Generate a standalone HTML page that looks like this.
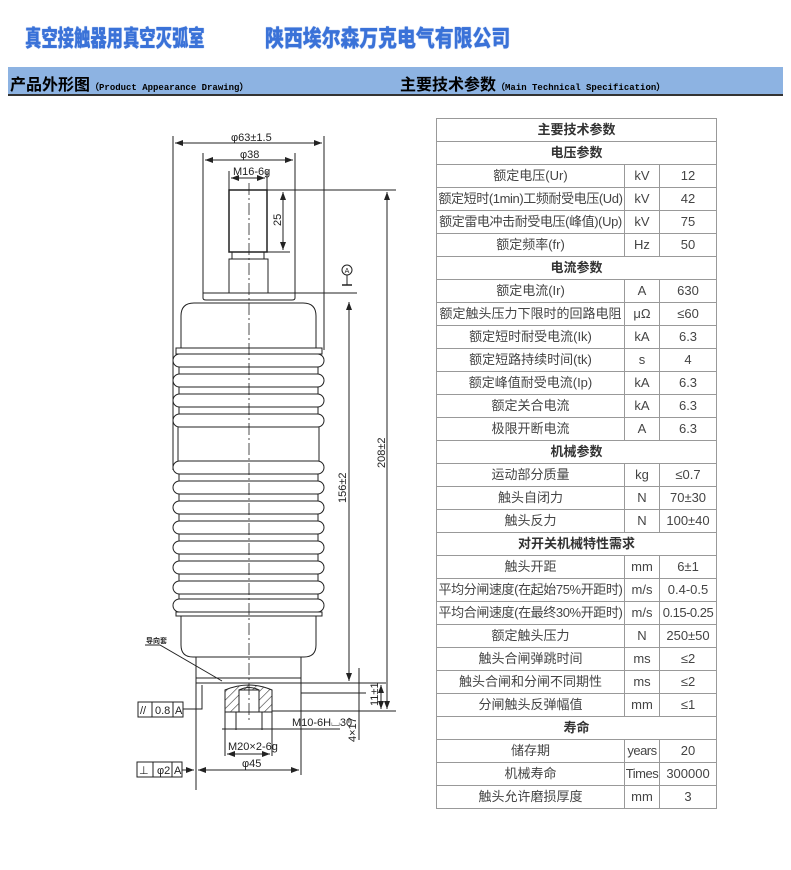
<!DOCTYPE html>
<html><head><meta charset="utf-8"><style>
body{margin:0;width:791px;height:870px;background:#fff;position:relative;overflow:hidden;font-family:"Liberation Sans","Noto Sans CJK SC",sans-serif}
.t{position:absolute;font-weight:900;color:#3a72d8;font-size:23px;top:24px;white-space:nowrap;text-shadow:0 0 1px #3a72d8;transform-origin:0 0;line-height:28px}
.bar{position:absolute;left:8px;top:67px;width:775px;height:27px;background:#8db3e2;border-bottom:2px solid #333}
.bar span{position:absolute;top:4px;font-size:16px;font-weight:bold;color:#000;white-space:nowrap}
.bar small{font-family:"Liberation Mono",monospace;font-size:9px;font-weight:bold}
table{position:absolute;left:436px;top:118px;border-collapse:collapse;width:280px;table-layout:fixed;border:1.5px solid #444}
td{border:1px solid #999;height:22px;padding:0;text-align:center;font-size:13px;color:#444;white-space:nowrap;line-height:22px;overflow:hidden}
td.h{font-weight:bold;color:#333}
</style></head><body>
<div class="t" style="left:25px;transform:scaleX(0.71)">真空接触器用真空灭弧室</div>
<div class="t" style="left:265px;transform:scaleX(0.82)">陕西埃尔森万克电气有限公司</div>
<div class="bar"><span style="left:2px">产品外形图<small>（Product Appearance Drawing）</small></span><span style="left:392px">主要技术参数<small>（Main Technical Specification）</small></span></div>
<svg style="position:absolute;left:0;top:0" width="791" height="870" viewBox="0 0 791 870">
<defs><marker id="a" markerWidth="8" markerHeight="6" refX="8" refY="3" orient="auto-start-reverse"><path d="M0,0L8,3L0,6z" fill="#222"/></marker>
<pattern id="hp" width="6" height="6" patternUnits="userSpaceOnUse" patternTransform="rotate(45)"><line x1="0" y1="0" x2="0" y2="6" stroke="#333" stroke-width="1.2"/></pattern></defs>
<g fill="none" stroke="#222" stroke-width="1">
<line x1="173" y1="136" x2="173" y2="470"/><line x1="324" y1="136" x2="324" y2="350"/>
<line x1="203" y1="153" x2="203" y2="296"/><line x1="295" y1="153" x2="295" y2="296"/>
<line x1="229" y1="171" x2="229" y2="190"/><line x1="267" y1="171" x2="267" y2="190"/>
<line x1="175" y1="143" x2="322" y2="143" marker-start="url(#a)" marker-end="url(#a)"/>
<line x1="205" y1="160" x2="293" y2="160" marker-start="url(#a)" marker-end="url(#a)"/>
<line x1="231" y1="178" x2="265" y2="178" marker-start="url(#a)" marker-end="url(#a)"/>
<rect x="229" y="190" width="38" height="62" stroke-width="1.5"/>
<rect x="232" y="252" width="32" height="7"/>
<rect x="229" y="259" width="39" height="34"/>
<path d="M203,293H295V298Q295,300 292,300H206Q203,300 203,298Z"/>
<line x1="267" y1="190" x2="396" y2="190"/><line x1="267" y1="252" x2="290" y2="252"/>
<line x1="283" y1="192" x2="283" y2="250" marker-start="url(#a)" marker-end="url(#a)"/>
<line x1="295" y1="293" x2="357" y2="293"/>
<circle cx="347" cy="270" r="5"/><line x1="347" y1="275" x2="347" y2="285"/><line x1="342" y1="285" x2="352" y2="285" stroke-width="1.5"/>
<path d="M181,348V316Q181,303 194,303H303Q316,303 316,316V348"/>
<rect x="176" y="348" width="146" height="6"/>
<g>
<rect x="173" y="354" width="151" height="13" rx="6.5"/>
<rect x="173" y="374" width="151" height="13" rx="6.5"/>
<rect x="173" y="394" width="151" height="13" rx="6.5"/>
<rect x="173" y="414" width="151" height="13" rx="6.5"/>
<rect x="173" y="461" width="151" height="13" rx="6.5"/>
<rect x="173" y="481" width="151" height="13" rx="6.5"/>
<rect x="173" y="501" width="151" height="13" rx="6.5"/>
<rect x="173" y="521" width="151" height="13" rx="6.5"/>
<rect x="173" y="541" width="151" height="13" rx="6.5"/>
<rect x="173" y="561" width="151" height="13" rx="6.5"/>
<rect x="173" y="581" width="151" height="13" rx="6.5"/>
<rect x="173" y="599" width="151" height="13" rx="6.5"/>
</g>
<path d="M179,367V374M318,367V374M179,387V394M318,387V394M179,407V414M318,407V414M178,427V461M319,427V461M179,474V481M318,474V481M179,494V501M318,494V501M179,514V521M318,514V521M179,534V541M318,534V541M179,554V561M318,554V561M179,574V581M318,574V581M179,594V599M318,594V599"/>
<rect x="176" y="612" width="146" height="4"/>
<path d="M181,616V645Q181,657 193,657H304Q316,657 316,645V616"/>
<line x1="196" y1="657" x2="196" y2="678"/><line x1="301" y1="657" x2="301" y2="678"/>
<rect x="196" y="678" width="105" height="5"/>
<line x1="301" y1="683" x2="386" y2="683"/>
<line x1="301" y1="693" x2="366" y2="693"/>
<path d="M225,712V690Q249,680 272,690V712Z" fill="url(#hp)"/>
<rect x="239" y="690" width="20" height="22" fill="#fff"/>
<path d="M239,690Q249,685 259,690" />
<line x1="272" y1="711" x2="396" y2="711"/>
<line x1="225" y1="712" x2="225" y2="756"/><line x1="272" y1="712" x2="272" y2="756"/>
<line x1="236" y1="712" x2="236" y2="730"/><line x1="262" y1="712" x2="262" y2="730"/>
<line x1="249" y1="183" x2="249" y2="722" stroke-dasharray="12,3,2,3" stroke-width="0.8"/>
<line x1="349" y1="302" x2="349" y2="681" marker-start="url(#a)" marker-end="url(#a)"/>
<line x1="387" y1="192" x2="387" y2="709" marker-start="url(#a)" marker-end="url(#a)"/>
<line x1="381" y1="685" x2="381" y2="709" marker-start="url(#a)" marker-end="url(#a)"/>
<line x1="359" y1="668" x2="359" y2="740"/>
<line x1="222" y1="729" x2="340" y2="729"/>
<line x1="301" y1="683" x2="301" y2="775"/>
<line x1="227" y1="754" x2="270" y2="754" marker-start="url(#a)" marker-end="url(#a)"/>
<line x1="198" y1="770" x2="299" y2="770" marker-start="url(#a)" marker-end="url(#a)"/>
<line x1="196" y1="683" x2="196" y2="790"/>
<rect x="138" y="702" width="45" height="15"/><line x1="152" y1="702" x2="152" y2="717"/><line x1="173" y1="702" x2="173" y2="717"/>
<path d="M183,709H202V685"/>
<rect x="137" y="762" width="45" height="15"/><line x1="153" y1="762" x2="153" y2="777"/><line x1="172" y1="762" x2="172" y2="777"/>
<line x1="182" y1="770" x2="194" y2="770" marker-end="url(#a)"/>
<path d="M145,645H160L222,681"/>
</g>
<g font-family="Liberation Sans Narrow,Liberation Sans,sans-serif" font-size="11" fill="#222">
<text x="231" y="141">φ63±1.5</text>
<text x="240" y="158">φ38</text>
<text x="233" y="175">M16-6g</text>
<text x="0" y="0" transform="translate(281,226) rotate(-90)">25</text>
<text x="347" y="273" font-size="7" text-anchor="middle">A</text>
<text x="0" y="0" transform="translate(346,503) rotate(-90)">156±2</text>
<text x="0" y="0" transform="translate(385,468) rotate(-90)">208±2</text>
<text x="0" y="0" transform="translate(378,706) rotate(-90)">11±1</text>
<text x="0" y="0" transform="translate(356,742) rotate(-90)">4×17</text>
<text x="292" y="726">M10-6H⌴30</text>
<text x="228" y="750">M20×2-6g</text>
<text x="242" y="767">φ45</text>
<text x="140" y="714">//</text><text x="155" y="714">0.8</text><text x="175" y="714">A</text>
<text x="139" y="774">⊥</text><text x="157" y="774">φ2</text><text x="174" y="774">A</text>
<text x="146" y="643" font-size="7" font-family="Noto Sans CJK SC,sans-serif" font-weight="bold">导向套</text>
</g>
</svg>
<table>
<colgroup><col style="width:188px"><col style="width:35px"><col style="width:57px"></colgroup>
<tr><td colspan="3" class="h">主要技术参数</td></tr>
<tr><td colspan="3" class="h">电压参数</td></tr>
<tr><td>额定电压(Ur)</td><td>kV</td><td>12</td></tr>
<tr><td style="letter-spacing:-0.4px">额定短时(1min)工频耐受电压(Ud)</td><td>kV</td><td>42</td></tr>
<tr><td style="letter-spacing:-0.4px">额定雷电冲击耐受电压(峰值)(Up)</td><td>kV</td><td>75</td></tr>
<tr><td>额定频率(fr)</td><td>Hz</td><td>50</td></tr>
<tr><td colspan="3" class="h">电流参数</td></tr>
<tr><td>额定电流(Ir)</td><td>A</td><td>630</td></tr>
<tr><td>额定触头压力下限时的回路电阻</td><td>μΩ</td><td>≤60</td></tr>
<tr><td>额定短时耐受电流(Ik)</td><td>kA</td><td>6.3</td></tr>
<tr><td>额定短路持续时间(tk)</td><td>s</td><td>4</td></tr>
<tr><td>额定峰值耐受电流(Ip)</td><td>kA</td><td>6.3</td></tr>
<tr><td>额定关合电流</td><td>kA</td><td>6.3</td></tr>
<tr><td>极限开断电流</td><td>A</td><td>6.3</td></tr>
<tr><td colspan="3" class="h">机械参数</td></tr>
<tr><td>运动部分质量</td><td>kg</td><td>≤0.7</td></tr>
<tr><td>触头自闭力</td><td>N</td><td>70±30</td></tr>
<tr><td>触头反力</td><td>N</td><td>100±40</td></tr>
<tr><td colspan="3" class="h">对开关机械特性需求</td></tr>
<tr><td>触头开距</td><td>mm</td><td>6±1</td></tr>
<tr><td style="letter-spacing:-0.4px">平均分闸速度(在起始75%开距时)</td><td>m/s</td><td>0.4-0.5</td></tr>
<tr><td style="letter-spacing:-0.4px">平均合闸速度(在最终30%开距时)</td><td>m/s</td><td style="letter-spacing:-0.5px">0.15-0.25</td></tr>
<tr><td>额定触头压力</td><td>N</td><td>250±50</td></tr>
<tr><td>触头合闸弹跳时间</td><td>ms</td><td>≤2</td></tr>
<tr><td>触头合闸和分闸不同期性</td><td>ms</td><td>≤2</td></tr>
<tr><td>分闸触头反弹幅值</td><td>mm</td><td>≤1</td></tr>
<tr><td colspan="3" class="h">寿命</td></tr>
<tr><td>储存期</td><td style="letter-spacing:-0.5px">years</td><td>20</td></tr>
<tr><td>机械寿命</td><td style="letter-spacing:-0.5px">Times</td><td>300000</td></tr>
<tr><td>触头允许磨损厚度</td><td>mm</td><td>3</td></tr>
</table>
</body></html>
